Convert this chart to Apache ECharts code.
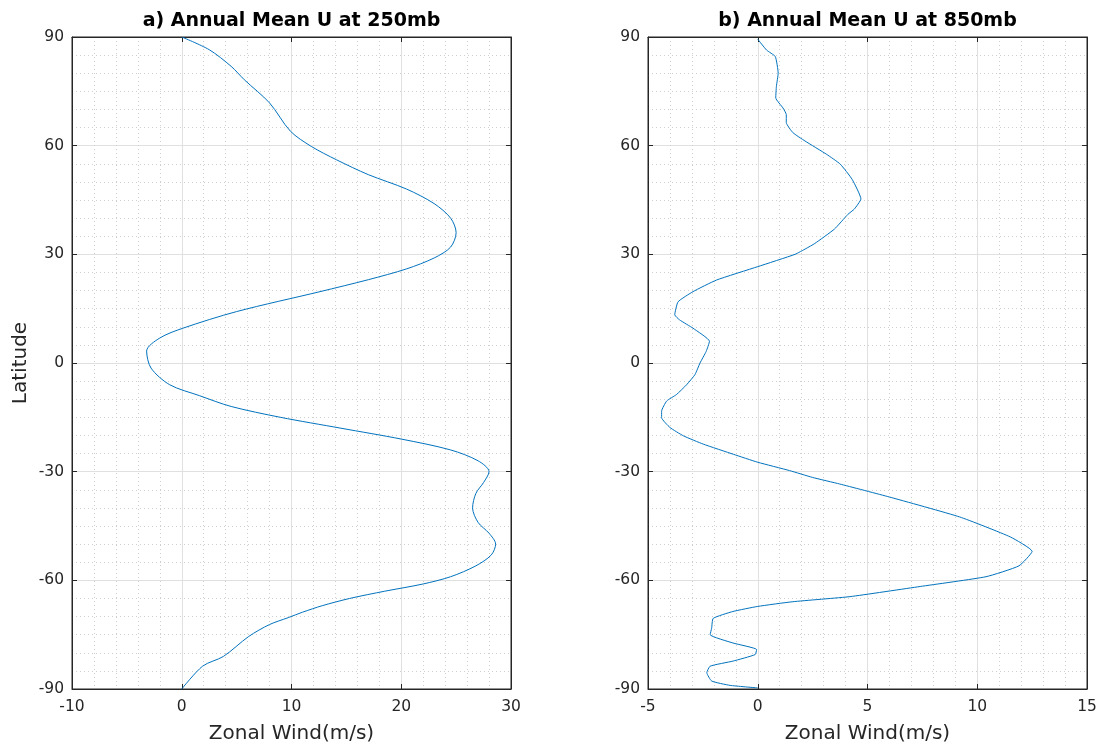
<!DOCTYPE html>
<html>
<head>
<meta charset="utf-8">
<script src="https://cdn.jsdelivr.net/npm/echarts@6/dist/echarts.min.js"></script>
<style>
  html, body { margin: 0; padding: 0; background: #ffffff; }
  #chart { width: 1101px; height: 749px; }
</style>
</head>
<body>
<div id="chart"></div>
<script>
// Zonal-mean zonal wind profiles, [u (m/s), latitude] pairs
const u250 = [
  [0, 90], [2.5, 86.5], [4.5, 81.9], [5.7, 78.2], [8.0, 71.8], [9.9, 64],
  [11.8, 59.8], [14.1, 56.1], [17, 52], [20.5, 48], [23, 44], [24.5, 40],
  [25, 36], [24.5, 32], [23, 29], [20.5, 26], [17, 23], [12.6, 19.7],
  [5, 14.2], [0.1, 9.6], [-2, 6.9], [-3.2, 3.3], [-2.8, -1.4], [-1.1, -6],
  [1.6, -9], [4.5, -12], [9, -15], [14.5, -18], [20, -21], [24.5, -24],
  [27, -27], [28, -30], [27.5, -33], [26.8, -36], [26.5, -40], [27, -44],
  [28, -47], [28.6, -50], [28.2, -53], [26.8, -56], [24.5, -59], [22, -61],
  [18.5, -63], [15.3, -65], [12.8, -67], [11, -68.8], [9.7, -70.3],
  [8, -72.2], [6.1, -75.5], [3.8, -81], [1.9, -83.7], [0, -90]
];

const u850 = [
  [0, 89.4], [0.4, 86.4], [0.8, 84.6], [0.93, 80], [0.85, 76.4], [0.82, 73.2],
  [1.15, 70.4], [1.3, 68.6], [1.3, 66.4], [1.6, 63.6], [2.15, 61.3],
  [3.14, 57.6], [3.76, 54.9], [4.3, 50.7], [4.7, 45.3], [4.4, 42.5],
  [4.1, 41], [3.5, 37], [2.6, 33], [2.2, 31.6], [1.7, 30], [0, 26.6],
  [-1.88, 22.9], [-2.95, 19.7], [-3.63, 16.9], [-3.78, 13.3], [-3.56, 11.9],
  [-2.95, 9.6], [-2.2, 6], [-2.35, 3.2], [-2.63, 0], [-2.86, -3.2],
  [-3.24, -6], [-3.7, -8.7], [-4.15, -10.5], [-4.38, -13.3], [-4.38, -15.1],
  [-4, -17.8], [-3.39, -20.1], [-2.48, -22.4], [-1.11, -25.2], [0, -27.4],
  [1.45, -29.7], [2.5, -31.6], [3.73, -33.4], [6, -37], [9.2, -42.5],
  [11.5, -48], [12.5, -52], [11.9, -56], [10.4, -59], [7.4, -61.7],
  [4.2, -64.5], [1.6, -65.9], [0, -67.2], [-1.13, -68.6], [-2.03, -70.5],
  [-2.1, -73.2], [-2.17, -75], [-1.13, -77.3], [-0.05, -79.1], [-0.12, -80.5],
  [-1.13, -82.3], [-2.17, -83.7], [-2.32, -85.5], [-2.1, -87.8],
  [-1.26, -89], [0, -89.7]
];

const titles = ['a) Annual Mean U at 250mb', 'b) Annual Mean U at 850mb'];
const xLabel = 'Zonal Wind(m/s)';
const yLabel = 'Latitude';
const xRanges = [[-10, 30, 10], [-5, 15, 5]];   // min, max, interval
const yRange = [-90, 90, 30];

const grids = [
  { left: 72, top: 37, width: 439, height: 656 },
  { left: 648, top: 37, width: 439, height: 656 }
];

const TXT = '#262626';
const FONT = 'DejaVu Sans';
const lineColor = '#0072BD';

const chart = echarts.init(document.getElementById('chart'), null, { renderer: 'canvas' });

const gridOpts = grids.map(g => Object.assign({
  show: true, borderColor: TXT, borderWidth: 1, backgroundColor: '#ffffff', containLabel: false
}, g));

const xAxes = [];
const yAxes = [];
grids.forEach((g, i) => {
  const [xmin, xmax, xint] = xRanges[i];
  // bottom axis with labels and grid
  xAxes.push({
    type: 'value', gridIndex: i, position: 'bottom', min: xmin, max: xmax, interval: xint,
    name: xLabel, nameLocation: 'middle', nameGap: 35,
    nameTextStyle: { color: TXT, fontFamily: FONT, fontSize: 20 },
    axisLine: { show: true, onZero: false, lineStyle: { color: TXT, width: 1 } },
    axisTick: { show: true, inside: true, length: 5, lineStyle: { color: TXT } },
    axisLabel: { color: TXT, fontFamily: FONT, fontSize: 15.5, margin: 10 },
    splitLine: { show: true, lineStyle: { color: '#e0e0e0', width: 1 } },
    minorTick: { show: false, splitNumber: 5 },
    minorSplitLine: { show: true, lineStyle: { color: '#cfcfcf', width: 1, type: [1, 3] } }
  });
  // top mirror axis for the inward ticks
  xAxes.push({
    type: 'value', gridIndex: i, position: 'top', min: xmin, max: xmax, interval: xint,
    axisLine: { show: true, onZero: false, lineStyle: { color: TXT, width: 1 } },
    axisTick: { show: true, inside: true, length: 5, lineStyle: { color: TXT } },
    axisLabel: { show: false }, splitLine: { show: false }
  });
  yAxes.push({
    type: 'value', gridIndex: i, position: 'left', min: yRange[0], max: yRange[1], interval: yRange[2],
    name: i === 0 ? yLabel : '', nameLocation: 'middle', nameGap: 41, nameRotate: 90,
    nameTextStyle: { color: TXT, fontFamily: FONT, fontSize: 20 },
    axisLine: { show: true, onZero: false, lineStyle: { color: TXT, width: 1 } },
    axisTick: { show: true, inside: true, length: 5, lineStyle: { color: TXT } },
    axisLabel: { color: TXT, fontFamily: FONT, fontSize: 15.5, margin: 8 },
    splitLine: { show: true, lineStyle: { color: '#e0e0e0', width: 1 } },
    minorTick: { show: false, splitNumber: 6 },
    minorSplitLine: { show: true, lineStyle: { color: '#cfcfcf', width: 1, type: [1, 3] } }
  });
  yAxes.push({
    type: 'value', gridIndex: i, position: 'right', min: yRange[0], max: yRange[1], interval: yRange[2],
    axisLine: { show: true, onZero: false, lineStyle: { color: TXT, width: 1 } },
    axisTick: { show: true, inside: true, length: 5, lineStyle: { color: TXT } },
    axisLabel: { show: false }, splitLine: { show: false }
  });
});

const option = {
  animation: false,
  backgroundColor: '#ffffff',
  grid: gridOpts,
  xAxis: xAxes,
  yAxis: yAxes,
  graphic: grids.map((g, i) => ({
    type: 'text', x: g.left + g.width / 2, y: 21,
    style: {
      text: titles[i], fill: '#000000', font: 'bold 19px "DejaVu Sans"',
      align: 'center', verticalAlign: 'middle'
    }
  })),
  series: [
    {
      type: 'line', xAxisIndex: 0, yAxisIndex: 0, data: u250,
      showSymbol: false, smooth: 0.3, lineStyle: { color: lineColor, width: 1 }
    },
    {
      type: 'line', xAxisIndex: 2, yAxisIndex: 2, data: u850,
      showSymbol: false, smooth: 0.15, lineStyle: { color: lineColor, width: 1 }
    }
  ]
};

chart.setOption(option);
</script>
</body>
</html>
